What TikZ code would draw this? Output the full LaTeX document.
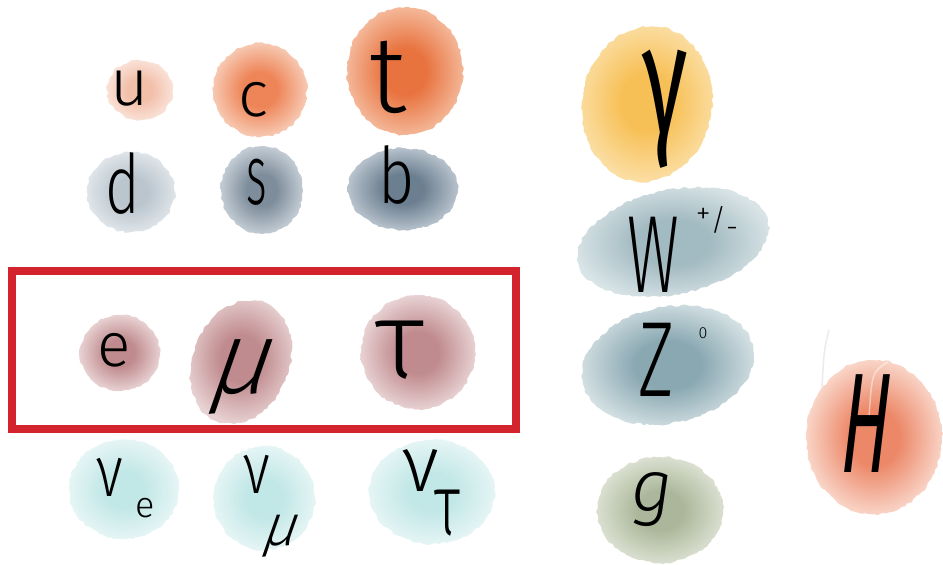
\documentclass[tikz,border=0pt]{standalone}
\usepackage{fontspec}
\usepackage{graphicx}
\setmainfont{Fira Sans}
\newfontfamily\hand{Fira Sans Light}
\usetikzlibrary{decorations.pathmorphing}
\definecolor{uC}{HTML}{F2BFA9}\definecolor{uO}{HTML}{FAE2D8}
\definecolor{cC}{HTML}{EE8558}\definecolor{cO}{HTML}{F7CBB5}
\definecolor{tC}{HTML}{E8733F}\definecolor{tO}{HTML}{F4B899}
\definecolor{dC}{HTML}{BAC5CE}\definecolor{dO}{HTML}{DFE5E9}
\definecolor{sC}{HTML}{7E8D9B}\definecolor{sO}{HTML}{C3CCD4}
\definecolor{bC}{HTML}{6C7F90}\definecolor{bO}{HTML}{B8C3CD}
\definecolor{lC}{HTML}{C08B8E}\definecolor{lO}{HTML}{E8D2D3}
\definecolor{nC}{HTML}{C2E7E7}\definecolor{nO}{HTML}{E6F5F5}
\definecolor{gaC}{HTML}{F7C056}\definecolor{gaO}{HTML}{FBDFA6}
\definecolor{wC}{HTML}{A2BAC1}\definecolor{wO}{HTML}{D9E4E7}
\definecolor{zC}{HTML}{8AA8B2}\definecolor{zO}{HTML}{D6E2E5}
\definecolor{glC}{HTML}{ABB79A}\definecolor{glO}{HTML}{DBE0D1}
\definecolor{hC}{HTML}{EC8767}\definecolor{hO}{HTML}{F9D5C8}
\definecolor{frame}{HTML}{D3242E}
\colorlet{wcin}{black}\colorlet{wcout}{white}
\pgfdeclareradialshading[wcin,wcout]{wcradial}{\pgfpoint{0bp}{0bp}}{color(0bp)=(wcin); color(9bp)=(wcin); color(25bp)=(wcout); color(50bp)=(wcout)}
\tikzset{
  blob/.style 2 args={decorate, decoration={random steps, segment length=3pt, amplitude=1.3pt}, rounded corners=1pt,
    /utils/exec={\colorlet{wcin}{#1}\colorlet{wcout}{#2}}, shading=wcradial},
  lbl/.style={inner sep=0pt, text=black, font=\hand},
  lblb/.style={inner sep=0pt, text=black},
}
\newcommand\fsz[1]{\fontsize{#1}{#1}\selectfont}
\begin{document}
\begin{tikzpicture}[x=1pt,y=-1pt]
\useasboundingbox (0,0) rectangle (943,565);
\pgfmathsetseed{7}
% quarks
\shade[blob={uC}{uO}] (140,90) ellipse [x radius=33pt, y radius=30pt];
\shade[blob={cC}{cO}] (260,90) ellipse [x radius=47pt, y radius=47pt];
\shade[blob={tC}{tO}] (405,71) ellipse [x radius=58pt, y radius=64pt];
\shade[blob={dC}{dO}] (131,192) ellipse [x radius=44pt, y radius=40pt];
\shade[blob={sC}{sO}] (262,190) ellipse [x radius=41pt, y radius=44pt];
\shade[blob={bC}{bO}] (403,189) ellipse [x radius=55pt, y radius=41pt];
% leptons
\shade[blob={lC}{lO}] (120,353) ellipse [x radius=40pt, y radius=38pt];
\shade[blob={lC}{lO}, rotate around={-22:(241,362)}] (241,362) ellipse [x radius=48pt, y radius=64pt];
\shade[blob={lC}{lO}] (418,352) ellipse [x radius=57pt, y radius=57pt];
\shade[blob={nC}{nO}] (124,489) ellipse [x radius=55pt, y radius=50pt];
\shade[blob={nC}{nO}] (264,498) ellipse [x radius=51pt, y radius=52pt];
\shade[blob={nC}{nO}] (432,492) ellipse [x radius=63pt, y radius=52pt];
% bosons
\shade[blob={gaC}{gaO}, rotate around={-10:(647,104)}] (647,104) ellipse [x radius=65pt, y radius=78pt];
\shade[blob={wC}{wO}, rotate around={12:(673,242)}] (673,242) ellipse [x radius=97pt, y radius=52pt];
\shade[blob={zC}{zO}, rotate around={12:(668,365)}] (668,365) ellipse [x radius=87pt, y radius=58pt];
\shade[blob={glC}{glO}] (660,510) ellipse [x radius=63pt, y radius=53pt];
\shade[blob={hC}{hO}] (874,437) ellipse [x radius=68pt, y radius=77pt];
% faint strokes near H
\draw[black!8, line width=1.5pt, line cap=round] (829,330) .. controls (824,350) .. (822,388);
\draw[white, opacity=0.45, line width=1.5pt, line cap=round] (888,362) .. controls (872,372) .. (869,417);
% frame
\draw[frame, line width=8pt] (12,270.5) rectangle (516,429);
% labels
\node[lbl, font=\hand\fsz{66}] (lu) at (130,89) {u};
\node[lbl, font=\hand\fsz{64}] (lc) at (254,100) {c};
\node[lbl, font=\hand\fsz{109}] (lt) at (388,77) {t};
\node[lbl, font=\hand\fsz{82}] (ld) at (123,183) {\scalebox{0.72}[1]{d}};
\node[lbl, font=\hand\fsz{85}] (ls) at (257,182) {\scalebox{0.52}[1]{s}};
\node[lbl, font=\hand\fsz{78}] (lb) at (397,175) {\scalebox{0.8}[1]{b}};
\node[lbl, font=\hand\fsz{62}] (le) at (114,350) {e};
\node[lbl, font=\hand\fsz{103}, xslant=0.35, transform shape] (lmu) at (241,377) {μ};
\node[lbl, font=\hand\fsz{110}] (ltau) at (400,350) {τ};
\node[lbl, font=\hand\fsz{72}] (lnue) at (110,477) {\scalebox{0.8}[1]{ν}};
\node[lbl, font=\hand\fsz{36}] (lnue2) at (145,508) {e};
\node[lbl, font=\hand\fsz{72}] (lnum) at (257,474) {\scalebox{0.8}[1]{ν}};
\node[lbl, font=\hand\fsz{58}, xslant=0.35, transform shape] (lnum2) at (281,536) {μ};
\node[lbl, font=\hand\fsz{79}] (lnut) at (421,471) {ν};
\node[lbl, font=\hand\fsz{87}] (lnut2) at (448,513) {\scalebox{0.67}[1]{τ}};
\node[lblb, font=\fsz{157}] (lga) at (665,109) {\scalebox{0.6}[1]{γ}};
\node[lbl, font=\hand\fsz{110}] (lw) at (653,255) {\scalebox{0.58}[1]{W}};
\node[lbl, font=\hand\fsz{30}] (lws) at (717,222) {\raisebox{7pt}{+}/\raisebox{-7pt}{-}};
\node[lbl, font=\hand\fsz{107}] (lz) at (656,360) {\scalebox{0.65}[1]{Z}};
\node[lbl, font=\hand\fsz{16}] (lzs) at (703,333) {0};
\node[lbl, font=\hand\itshape\fsz{73}] (lg) at (652,500) {g};
\node[lblb, font=\fsz{142}, xslant=0.12, transform shape] (lh) at (868,424) {\scalebox{0.5}[1]{H}};
\end{tikzpicture}
\end{document}
